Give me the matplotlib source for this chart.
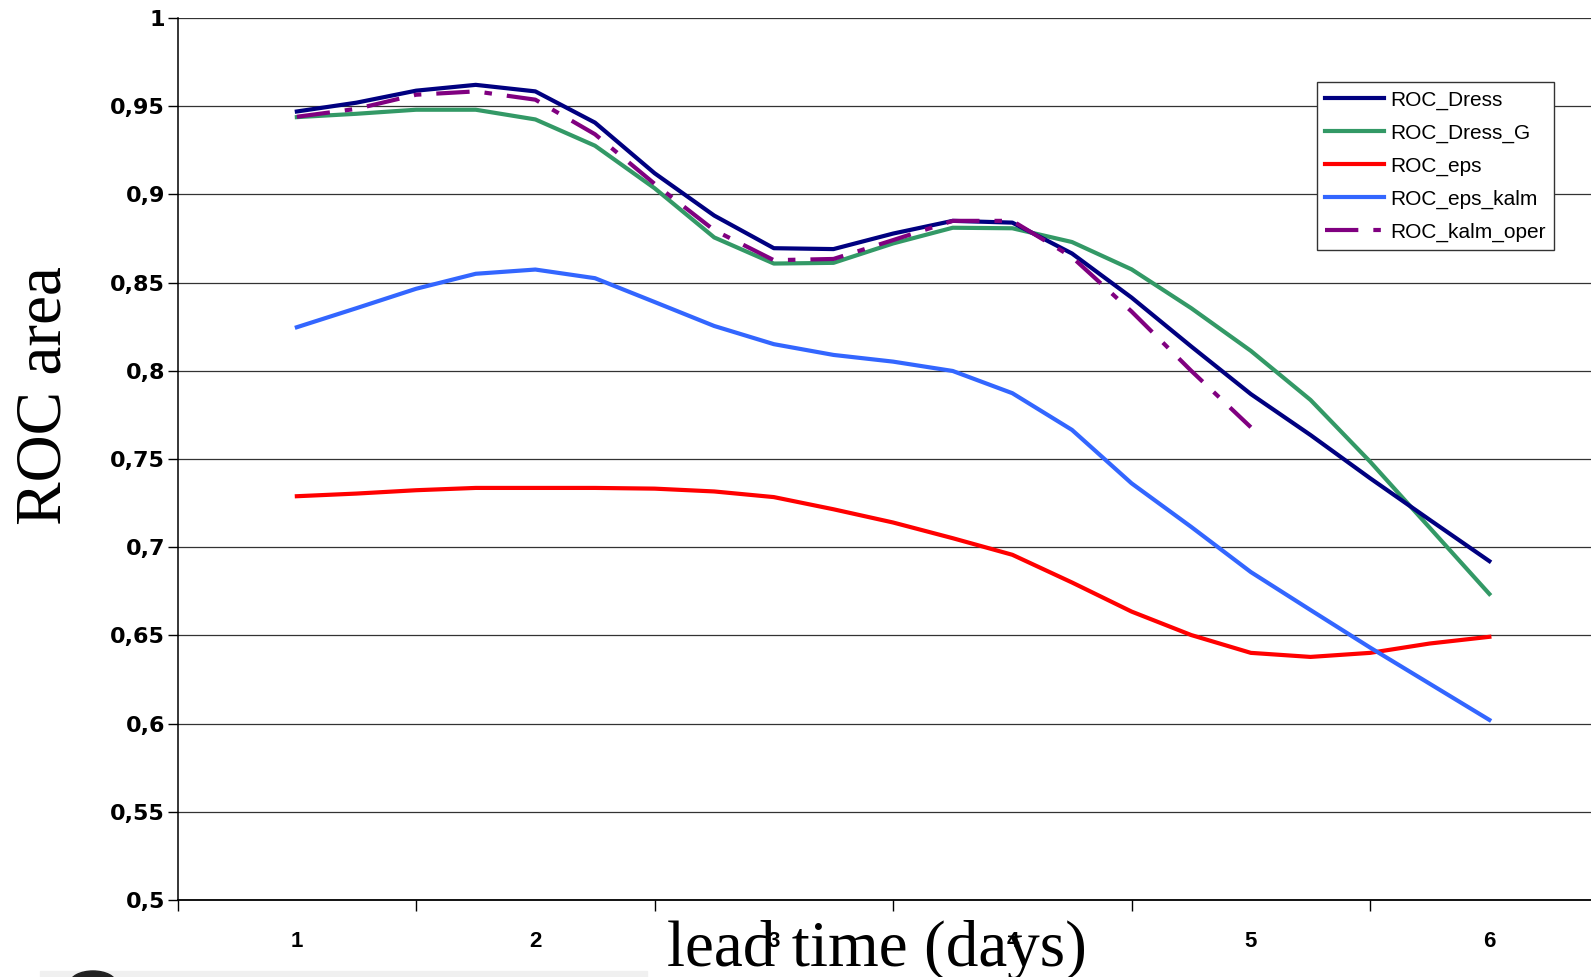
import matplotlib
matplotlib.use("Agg")
import matplotlib.pyplot as plt
from matplotlib.patches import Ellipse, Rectangle
import numpy as np

# lead time in days (6-hourly readings)
days = [1, 1.25, 1.5, 1.75, 2, 2.25, 2.5, 2.75, 3, 3.25, 3.5,
        3.75, 4, 4.25, 4.5, 4.75, 5, 5.25, 5.5, 5.75, 6]

roc_dress = [0.947, 0.952, 0.9588, 0.9621, 0.9584, 0.9407, 0.912, 0.888, 0.8695, 0.869, 0.8778,
             0.885, 0.884, 0.8665, 0.8415, 0.8138, 0.7868, 0.7636, 0.7391, 0.7155, 0.6921]
roc_dress_g = [0.9438, 0.9457, 0.948, 0.948, 0.9425, 0.9276, 0.9035, 0.8756, 0.8608, 0.8612, 0.8722,
               0.8811, 0.8808, 0.873, 0.8575, 0.8355, 0.8113, 0.7835, 0.7485, 0.711, 0.6735]
roc_eps = [0.7289, 0.7304, 0.7323, 0.7336, 0.7336, 0.7336, 0.7332, 0.7316, 0.7284, 0.7215, 0.714,
           0.7051, 0.6957, 0.680, 0.6635, 0.6502, 0.6401, 0.6378, 0.6401, 0.6454, 0.6492]
roc_eps_kalm = [0.8247, 0.8355, 0.8465, 0.855, 0.8574, 0.8525, 0.839, 0.8254, 0.8151, 0.809, 0.8052,
                0.7999, 0.7873, 0.7665, 0.7362, 0.7115, 0.6859, 0.6644, 0.6431, 0.6226, 0.6021]
# operational series stops at day 5
roc_kalm_oper = [0.944, 0.9485, 0.9565, 0.9584, 0.9537, 0.9341, 0.906, 0.8797, 0.8627, 0.8634, 0.8741,
                 0.885, 0.885, 0.8645, 0.8336, 0.800, 0.768]

day_labels = ["1", "2", "3", "4", "5", "6"]
y_ticks = [0.5, 0.55, 0.6, 0.65, 0.7, 0.75, 0.8, 0.85, 0.9, 0.95, 1.0]
y_labels = ["0,5", "0,55", "0,6", "0,65", "0,7", "0,75", "0,8", "0,85", "0,9", "0,95", "1"]

W, H = 1591, 977
fig = plt.figure(figsize=(W / 100, H / 100), dpi=100)

# plot area runs past the right edge like in the original slide
x0, x1 = 177.6, 177.6 + 6 * 238.5
y_top, y_bot = 18, 900
ax = fig.add_axes([x0 / W, 1 - y_bot / H, (x1 - x0) / W, (y_bot - y_top) / H])

lw = 3
ax.plot(days, roc_dress, color="#000080", lw=lw, label="ROC_Dress", zorder=5)
ax.plot(days, roc_dress_g, color="#339966", lw=lw, label="ROC_Dress_G", zorder=4)
ax.plot(days, roc_eps, color="#FF0000", lw=lw, label="ROC_eps", zorder=4)
ax.plot(days, roc_eps_kalm, color="#3366FF", lw=lw, label="ROC_eps_kalm", zorder=4)
ax.plot(days[:len(roc_kalm_oper)], roc_kalm_oper, color="#800080", lw=lw,
        linestyle=(0, (8, 3.6, 1.8, 3.6)), label="ROC_kalm_oper", zorder=6)

ax.set_xlim(0.5, 6.5)
ax.set_ylim(0.5, 1.0)

# category style axis: labels in the middle, tick marks between
ax.set_xticks(range(1, 7))
ax.set_xticklabels(day_labels, fontsize=16, fontweight="bold",
                   family=["Liberation Sans Narrow", "Liberation Sans"])
ax.set_xticks(np.arange(0.5, 6.6, 1), minor=True)
ax.tick_params(axis="x", which="major", length=0, pad=22)
ax.tick_params(axis="x", which="minor", length=8, width=1, direction="out")

ax.set_yticks(y_ticks)
ax.set_yticklabels(y_labels, fontsize=16, fontweight="bold", family="DejaVu Sans")
ax.tick_params(axis="y", length=7, width=1, direction="out", pad=2)

ax.grid(True, axis="y", color="#333333", lw=0.9)
ax.set_axisbelow(True)
for s in ["top", "right"]:
    ax.spines[s].set_visible(False)
ax.spines["left"].set_linewidth(1.1)
ax.spines["bottom"].set_linewidth(1.3)

fig.text(45 / W, 1 - 396 / H, "ROC area", rotation=90, ha="center", va="center",
         fontsize=47, family="Liberation Serif")
fig.text(877 / W, 1 - 966 / H, "lead time (days)", ha="center", va="baseline",
         fontsize=47, family="Liberation Serif")

leg = fig.legend(loc="upper left", bbox_to_anchor=(1317 / W, 1 - 82 / H),
                 prop={"family": "Liberation Sans", "size": 15},
                 handlelength=2.8, handletextpad=0.3, labelspacing=0.66,
                 borderpad=0.4, borderaxespad=0, fancybox=False, framealpha=1)
leg.get_frame().set_edgecolor("#333333")
leg.get_frame().set_linewidth(1.0)

# bits of other slide content cut off at the bottom edge
fig.patches.append(Rectangle((40 / W, 0), 607 / W, 6 / H, transform=fig.transFigure,
                             color="#f0f0f0", zorder=0))
fig.patches.append(Ellipse((93 / W, -6 / H), 46 / W, 24 / H, transform=fig.transFigure,
                           color="#222222", zorder=1))

fig.savefig("out.png", dpi=100)
